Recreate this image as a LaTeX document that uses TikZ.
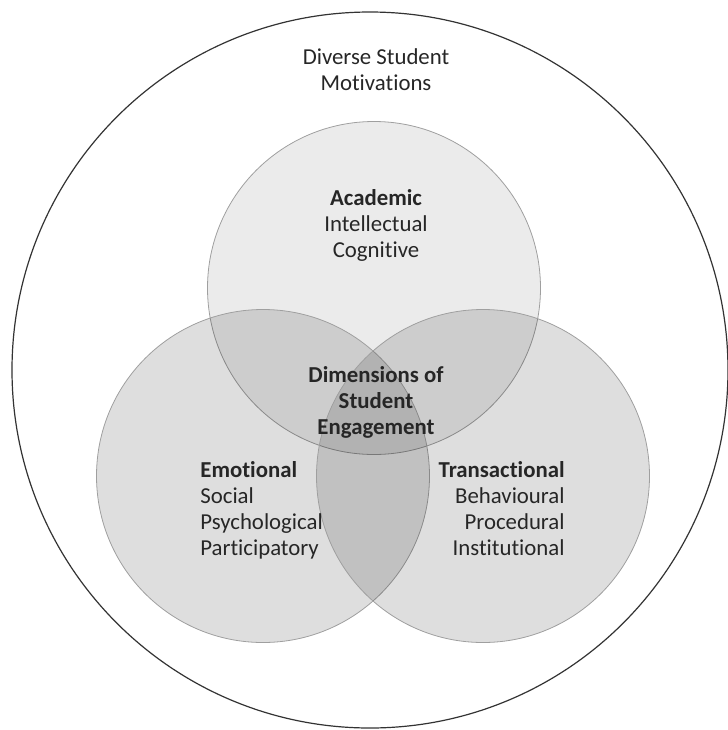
\documentclass[tikz,border=0pt]{standalone}
\usepackage{fontspec}
\setmainfont{Carlito}[Ligatures=NoCommon]

\tikzset{
  dim circle/.style={shape=circle, draw=gray!75, fill=black, minimum size=166.5pt, inner sep=0pt},
  dim label/.style={inner sep=0pt, text=black!85, font=\fontsize{11.4}{13}\selectfont}
}

\begin{document}
\begin{tikzpicture}[x=0.5pt,y=-0.5pt]
\useasboundingbox (0,0) rectangle (728,730);

\node [shape=circle, draw=black!80, line width=0.6pt, minimum size=358pt, inner sep=0pt] (outer) at (370,370) {};
\node [dim circle, fill opacity=0.08] (academic) at (374,288) {};
\node [dim circle, fill opacity=0.13] (emotional) at (263,476) {};
\node [dim circle, fill opacity=0.13] (transactional) at (483,476) {};

% last line of each label sits on the given baseline
\node [dim label, anchor=base, align=center] (motiv) at (376,90) {Diverse Student\\Motivations};
\node [dim label, anchor=base, align=center] (acadtext) at (376,257) {\textbf{Academic}\\Intellectual\\Cognitive};
\node [dim label, anchor=base, align=center] (core) at (376,434) {\textbf{Dimensions of}\\\textbf{Student}\\\textbf{Engagement}};
\node [dim label, anchor=base west, align=left] (emotext) at (200,555) {\textbf{Emotional}\\Social\\Psychological\\Participatory};
\node [dim label, anchor=base east, align=right] (transtext) at (565,555) {\textbf{Transactional}\\Behavioural\\Procedural\\Institutional};
\end{tikzpicture}
\end{document}
